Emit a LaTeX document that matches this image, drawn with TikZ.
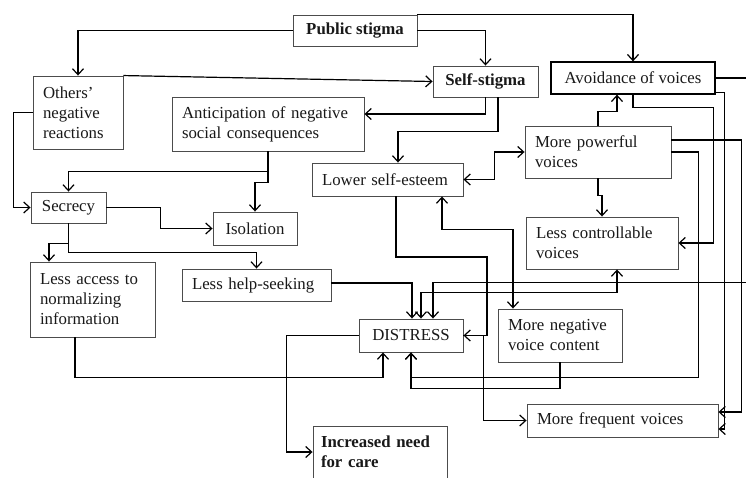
\documentclass[tikz,border=0pt]{standalone}
\usepackage{fontspec}
\setmainfont{Liberation Serif}
\usepackage{tikz}
\usetikzlibrary{arrows.meta}
\tikzset{every picture/.style={line width=1.2pt}}
\tikzset{barb/.tip={Straight Barb[length=6pt,width=11pt]}}

\begin{document}
\begin{tikzpicture}[x=1pt,y=-1pt,
    arr/.style={-barb}, both/.style={barb-barb},
    box/.style={draw=black!70, line width=0.9pt, inner xsep=10pt, inner ysep=0pt, align=left,
        text=black!90, font=\fontsize{16.8}{20}\selectfont},
    cbox/.style={box, align=center, inner xsep=0pt},
    bold/.style={font=\fontsize{16.8}{20}\selectfont\bfseries}]
        \clip (0,0) rectangle (746,477);
        \fill[white] (0,0) rectangle (746,477);
        \node[cbox,bold,minimum width=124pt,minimum height=31pt] (pub) at (355,30.5) {Public stigma};
        \node[box,text width=70pt,minimum height=73pt] (oth) at (78,112.5) {Others’\\negative\\reactions};
        \node[cbox,bold,minimum width=105pt,minimum height=31pt] (self) at (485.5,81.5) {Self-stigma};
        \node[cbox,draw=black,line width=1.3pt,minimum width=164pt,minimum height=32pt] (avoid) at (633,78) {Avoidance of voices};
        \node[box,text width=172pt,minimum height=54pt] (anti) at (268,124) {Anticipation of negative\\social consequences};
        \node[box,text width=131pt,minimum height=33pt] (low) at (387.5,179.5) {Lower self-esteem};
        \node[box,text width=126pt,minimum height=52pt] (pow) at (598,152) {More powerful\\voices};
        \node[cbox,minimum width=75pt,minimum height=31pt] (sec) at (68.5,207.5) {Secrecy};
        \node[cbox,minimum width=84pt,minimum height=33pt] (iso) at (255,228.5) {Isolation};
        \node[box,text width=132pt,minimum height=52pt] (ctrl) at (602,243) {Less controllable\\voices};
        \node[box,text width=105pt,minimum height=75pt] (acc) at (92.5,299.5) {Less access to\\normalizing\\information};
        \node[box,text width=129pt,minimum height=32pt] (help) at (256.5,285) {Less help-seeking};
        \node[cbox,minimum width=104pt,minimum height=33pt] (dis) at (411,335.5) {DISTRESS};
        \node[box,text width=104pt,minimum height=53pt] (neg) at (560,335.5) {More negative\\voice content};
        \node[box,text width=171pt,minimum height=33pt] (freq) at (622.5,420.5) {More frequent voices};
        \node[box,bold,inner xsep=8pt,text width=118pt,minimum height=52pt] (care) at (380,452) {Increased need\\for care};
        \draw[arr] (pub.west) -| (oth.north);
        \draw[arr] (pub.east) -| (self.north);
        \draw[arr] (pub.north east) -| (avoid.north);
        \draw[arr] (oth.north east) -- (self.west);
        \draw[arr] (oth.west) -- ++(-19,0) |- (sec.west);
        \draw[arr] (self.south) |- ([yshift=10pt]anti.east);
        \draw[arr] ([xshift=12.5pt]self.south) -- ++(0,34) -| ([xshift=10.5pt]low.north);
        \draw[arr] (anti.south) -- ++(0,20) -| (sec.north);
        \draw[arr] (anti.south) -- ++(0,31) -| (iso.north);
        \draw[arr] (sec.east) -- ++(54,0) |- (iso.west);
        \draw[arr] (sec.south) -- ++(0,29) -| (help.north);
        \draw[arr] (sec.south) -- ++(0,20) -| ([xshift=-43.5pt]acc.north);
        \draw[arr] ([xshift=-17.5pt]acc.south) |- ([xshift=-28pt,yshift=-25pt]dis.south) -- ([xshift=-28pt]dis.south);
        \draw[arr] ([yshift=2pt]help.east) -| ([xshift=1pt]dis.north);
        \draw[arr] ([xshift=8.5pt]low.south) |- (487,257) |- (dis.east);
        \draw[arr] (dis.east) -- ++(20,0) |- (freq.west);
        \draw[arr] (dis.west) -- ++(-72,0) |- (care.west);
        \draw[both] (low.east) -- ++(31,0) |- (pow.west);
        \draw[both] ([xshift=54.5pt]low.south) -- ++(0,33) -| ([xshift=-47pt]neg.north);
        \draw[arr] (pow.north) -- ++(0,-14) -| ([xshift=-16pt]avoid.south);
        \draw[arr] (pow.south) -- ++(0,17) -| (ctrl.north);
        \draw[arr] (avoid.south) -- ++(0,13) -| ([xshift=35pt]ctrl.east) -- (ctrl.east);
        \draw[arr] (avoid.east) -- ++(45,0) |- ([xshift=22pt,yshift=36pt]dis.north) -- ([xshift=22pt]dis.north);
        \draw[both] ([xshift=10pt]dis.north) -- ++(0,-26) -| ([xshift=15pt]ctrl.south);
        \draw[arr] (pow.east) -- ++(27,0) |- ([yshift=-25pt]dis.south) -- (dis.south);
        \draw[arr] (neg.south) -- ++(0,26) -| (dis.south);
        \draw[arr] ([yshift=12pt]pow.east) -- ++(70,0) |- ([yshift=8.5pt]freq.east);
        \draw[arr] ([yshift=2pt]avoid.south east) -- ++(9,0) |- ([yshift=-8.5pt]freq.east);
    \end{tikzpicture}
\end{document}
